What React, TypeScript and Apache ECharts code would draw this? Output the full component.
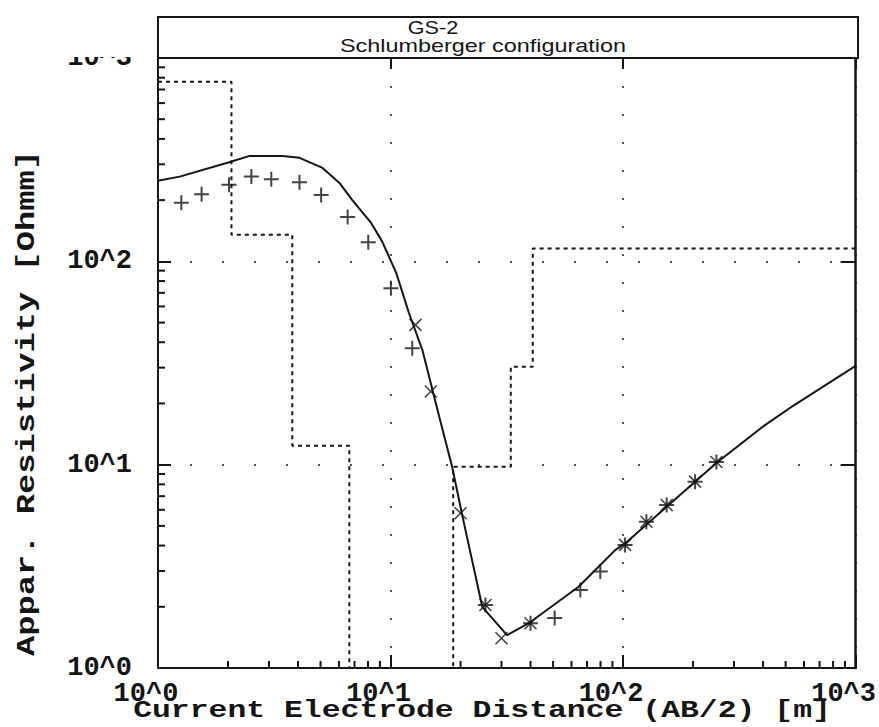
import React, { useEffect, useRef } from "react";
import * as echarts from "echarts";

// ---- data ----
const xTickLabels = ["10^0", "10^1", "10^2", "10^3"];
const yTickLabels = ["10^0", "10^1", "10^2", "10^3"];

// layered model (dotted step line)
const layerRes = [765, 135, 12.4, 0.3, 9.78, 30.3, 115.5];
const layerBounds = [2.07, 3.78, 6.65, 18.6, 32.9, 40.9];

// model (calculated) curve
const curveAB = [1, 1.24, 2.04, 2.48, 3.43, 4.06, 5.1, 6.03, 6.85, 8.27, 9.21, 10.58, 12.0, 13.7, 16.2, 18.4, 20.4, 24.8, 31.7, 39.3, 64.4, 92.5, 102, 252, 406, 547, 1000];
const curveRho = [249, 261, 308, 330, 330, 323, 288, 243, 200, 154, 125, 87.7, 55.7, 36.7, 17.2, 9.78, 5.55, 2.0, 1.45, 1.66, 2.51, 3.8, 4.1, 10.2, 15.6, 19.7, 30.6];

// measured points (+)
const measAB = [1.26, 1.54, 2.02, 2.52, 3.07, 4.06, 5.03, 6.54, 8.02, 10.04, 12.4, 25.6, 40, 50.8, 65.5, 79.8, 102, 126, 154, 204, 252];
const measRho = [194, 214, 238, 261, 253, 245, 212, 165, 124, 73.8, 37.4, 2.04, 1.66, 1.76, 2.42, 2.98, 4.03, 5.24, 6.33, 8.25, 10.3];

// calculated points (x)
const calcAB = [12.8, 14.9, 20, 25.6, 30, 40, 102, 126, 154, 204, 252];
const calcRho = [48.7, 22.9, 5.77, 2.04, 1.4, 1.66, 4.03, 5.24, 6.33, 8.25, 10.3];

// minor tick positions on log axes
const minorTicks = [2, 3, 4, 5, 6, 7, 8, 9, 20, 30, 40, 50, 60, 70, 80, 90, 200, 300, 400, 500, 600, 700, 800, 900];

const titleLine1 = "GS-2";
const titleLine2 = "Schlumberger configuration";
const xTitle = "Current Electrode Distance (AB/2) [m]";
const yTitle = "Appar. Resistivity [Ohmm]";

const INK = "#151515";
const MONO = '"Liberation Mono", "DejaVu Sans Mono", monospace';

function buildStep(): number[][] {
  const pts: number[][] = [[1, layerRes[0]]];
  layerBounds.forEach((d, i) => {
    pts.push([d, layerRes[i]]);
    pts.push([d, layerRes[i + 1]]);
  });
  pts.push([1000, layerRes[layerRes.length - 1]]);
  return pts;
}

function minorTickSeries(dir: "x" | "y") {
  return {
    type: "custom",
    silent: true,
    z: 5,
    xAxisIndex: 0,
    yAxisIndex: 0,
    data: minorTicks.map((v) => (dir === "x" ? [v, 1] : [1, v])),
    renderItem: (_params: any, api: any) => {
      const p = api.coord([api.value(0), api.value(1)]);
      return {
        type: "line",
        shape:
          dir === "x"
            ? { x1: p[0], y1: p[1], x2: p[0], y2: p[1] - 7 }
            : { x1: p[0], y1: p[1], x2: p[0] + 7, y2: p[1] },
        style: { stroke: INK, lineWidth: 2 },
      };
    },
  };
}

export default function App() {
  const ref = useRef<HTMLDivElement>(null);

  useEffect(() => {
    if (!ref.current) return;
    const chart = echarts.init(ref.current, undefined, { renderer: "svg" });

    const logAxisBase = {
      type: "log",
      logBase: 10,
      min: 1,
      max: 1000,
    };

    const option: any = {
      animation: false,
      backgroundColor: "#ffffff",
      grid: { left: 158, right: 21, top: 58, bottom: 59, containLabel: false },
      xAxis: [
        {
          ...logAxisBase,
          position: "bottom",
          axisLine: { show: true, lineStyle: { color: INK, width: 2 } },
          axisTick: { show: true, inside: true, length: 13, lineStyle: { color: INK, width: 2 } },
          minorTick: { show: false },
          splitLine: { show: true, lineStyle: { color: "#555", width: 2, type: [2, 26] } },
          axisLabel: {
            show: true,
            showMinLabel: true,
            showMaxLabel: true,
            margin: 12,
            padding: [0, 24, 0, 0],
            color: INK,
            fontFamily: MONO,
            fontWeight: "bold",
            fontSize: 27,
            formatter: (v: number) => xTickLabels[Math.round(Math.log10(v))],
          },
        },
        {
          ...logAxisBase,
          position: "top",
          axisLine: { show: true, lineStyle: { color: INK, width: 2 } },
          axisTick: { show: true, inside: true, length: 11, lineStyle: { color: INK, width: 2 } },
          splitLine: { show: false },
          axisLabel: { show: false },
        },
      ],
      yAxis: [
        {
          ...logAxisBase,
          position: "left",
          axisLine: { show: true, lineStyle: { color: INK, width: 2 } },
          axisTick: { show: true, inside: true, length: 13, lineStyle: { color: INK, width: 2 } },
          splitLine: { show: true, lineStyle: { color: "#555", width: 2, type: [2, 30] } },
          axisLabel: {
            show: true,
            showMinLabel: true,
            showMaxLabel: true,
            margin: 26,
            color: INK,
            fontFamily: MONO,
            fontWeight: "bold",
            fontSize: 27,
            formatter: (v: number) => yTickLabels[Math.round(Math.log10(v))],
          },
        },
        {
          ...logAxisBase,
          position: "right",
          axisLine: { show: true, lineStyle: { color: INK, width: 2.5 } },
          axisTick: { show: true, inside: true, length: 15, lineStyle: { color: INK, width: 2 } },
          splitLine: { show: false },
          axisLabel: { show: false },
        },
      ],
      series: [
        {
          name: "layers",
          type: "line",
          data: buildStep(),
          showSymbol: false,
          symbol: "none",
          clip: true,
          z: 3,
          lineStyle: { color: INK, width: 2, type: [4, 4] },
        },
        {
          name: "model",
          type: "line",
          data: curveAB.map((x, i) => [x, curveRho[i]]),
          showSymbol: false,
          symbol: "none",
          smooth: false,
          clip: true,
          z: 4,
          lineStyle: { color: INK, width: 2 },
        },
        {
          name: "measured",
          type: "scatter",
          data: measAB.map((x, i) => [x, measRho[i]]),
          symbol: "path://M0,5L10,5M5,0L5,10",
          symbolSize: 15,
          z: 6,
          itemStyle: { color: "rgba(0,0,0,0)", borderColor: INK, borderWidth: 2 },
        },
        {
          name: "calculated",
          type: "scatter",
          data: calcAB.map((x, i) => [x, calcRho[i]]),
          symbol: "path://M0,0L10,10M10,0L0,10",
          symbolSize: 12,
          z: 6,
          itemStyle: { color: "rgba(0,0,0,0)", borderColor: INK, borderWidth: 1.6 },
        },
        minorTickSeries("x"),
        minorTickSeries("y"),
      ],
      graphic: [
        {
          type: "rect",
          z: 99,
          shape: { x: 0, y: 0, width: 157, height: 57 },
          style: { fill: "#ffffff", stroke: null, lineWidth: 0 },
        },
        {
          type: "rect",
          z: 100,
          shape: { x: 158, y: 17, width: 700, height: 41 },
          style: { fill: "#ffffff", stroke: INK, lineWidth: 2 },
        },
        {
          type: "text",
          z: 101,
          x: 433,
          y: 28,
          scaleX: 1.2,
          style: {
            text: titleLine1,
            font: '18px "Liberation Sans", Arial, sans-serif',
            fill: INK,
            textAlign: "center",
            textVerticalAlign: "middle",
            align: "center",
            verticalAlign: "middle",
          },
        },
        {
          type: "text",
          z: 101,
          x: 483,
          y: 46,
          scaleX: 1.3,
          style: {
            text: titleLine2,
            font: '18px "Liberation Sans", Arial, sans-serif',
            fill: INK,
            textAlign: "center",
            textVerticalAlign: "middle",
            align: "center",
            verticalAlign: "middle",
          },
        },
        {
          type: "text",
          z: 101,
          x: 482,
          y: 711,
          scaleX: 1.31,
          style: {
            text: xTitle,
            font: `bold 24px ${MONO}`,
            fill: INK,
            textAlign: "center",
            textVerticalAlign: "middle",
            align: "center",
            verticalAlign: "middle",
          },
        },
        {
          type: "text",
          z: 101,
          x: 27,
          y: 403,
          rotation: Math.PI / 2,
          scaleX: 1.35,
          style: {
            text: yTitle,
            font: `bold 25px ${MONO}`,
            fill: INK,
            textAlign: "center",
            textVerticalAlign: "middle",
            align: "center",
            verticalAlign: "middle",
          },
        },
      ],
    };

    chart.setOption(option);
    return () => chart.dispose();
  }, []);

  return (
    <div
      ref={ref}
      style={{ position: "fixed", left: 0, top: 0, width: 879, height: 727, background: "#fff" }}
    />
  );
}
